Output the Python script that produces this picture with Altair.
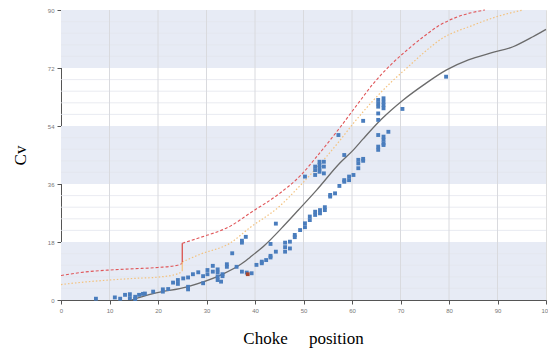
import altair as alt
import pandas as pd

# ---- data ----
pts_x = [7.2, 11.1, 12.2, 13.2, 14.2, 14.2, 15.3, 15.3, 16.1, 16.9, 17.3, 19.0, 21.0, 21.0, 22.1,
         23.1, 24.1, 24.1, 25.2, 26.2, 26.2, 26.2, 27.2, 28.3, 29.3, 29.3, 30.2, 30.2, 31.3, 31.3,
         32.3, 32.3, 32.3, 32.3, 33.0, 33.3, 33.3, 34.2, 34.2, 35.3, 36.2, 37.3, 37.3, 38.1, 37.3,
         38.3, 39.3, 40.3, 41.4, 41.4, 42.3, 43.2, 43.2, 43.2, 44.3, 44.3, 46.2, 46.2, 46.2, 47.2,
         47.2, 48.2, 48.2, 49.3, 50.3, 50.3, 51.3, 51.3, 52.4, 52.4, 53.4, 53.4, 54.4, 54.4, 55.5,
         55.5, 56.5, 57.4, 58.4, 58.4, 59.4, 59.4, 60.3, 61.3, 61.3, 62.3, 50.3, 52.4, 52.4, 52.4,
         53.3, 53.3, 53.3, 53.3, 54.2, 54.2, 54.2, 58.4, 61.3, 62.3, 57.2, 62.3, 65.4, 65.4, 65.4,
         66.5, 66.5, 66.5, 66.5, 67.5, 65.4, 65.4, 65.4, 65.4, 65.4, 66.5, 66.5, 66.5, 66.5, 70.4,
         79.4]
pts_y = [0.4, 0.8, 0.4, 1.6, 1.8, 0.6, 1.0, 0.3, 1.6, 1.9, 2.0, 2.6, 3.3, 2.6, 3.4,
         5.4, 6.2, 5.0, 6.7, 7.0, 4.1, 3.3, 8.0, 8.6, 7.4, 5.2, 9.3, 8.0, 10.6, 8.8,
         9.5, 8.5, 7.2, 6.2, 5.7, 8.0, 7.4, 11.1, 10.3, 14.5, 10.3, 17.8, 18.4, 19.6, 8.8,
         8.5, 8.3, 10.9, 11.4, 11.9, 12.4, 13.2, 13.7, 17.4, 15.0, 23.7, 17.8, 16.4, 15.0, 18.1,
         16.0, 20.2, 19.5, 21.7, 22.6, 23.8, 25.9, 24.8, 27.4, 26.4, 27.9, 26.9, 28.8, 27.9, 32.1,
         32.6, 33.1, 35.4, 36.7, 37.2, 38.3, 37.2, 38.8, 40.9, 42.4, 43.2, 38.3, 41.4, 40.3, 38.8,
         42.9, 41.9, 40.9, 39.8, 41.4, 39.3, 42.9, 45.0, 43.5, 43.8, 51.2, 55.6, 51.2, 47.6, 46.6,
         50.7, 49.7, 48.6, 48.1, 52.2, 62.1, 61.0, 60.0, 57.9, 55.9, 62.6, 61.5, 60.5, 59.5, 59.3,
         69.3]

flag_x = [38.5]
flag_y = [8.0]

fit_x = [14.5, 19, 26, 33, 37, 39, 42, 45.8, 49, 52.7, 57.5, 60.3, 62.3, 66, 70.5, 75, 79.5, 84, 88.5, 93.2, 97.3, 100]
fit_y = [0.0, 2.0, 4.1, 7.8, 11.0, 13.3, 17.0, 22.8, 28.0, 34.1, 42.5, 46.6, 50.0, 56.0, 62.0, 67.0, 71.4, 74.5, 76.6, 78.6, 81.7, 84.0]

up_x = [0, 5, 10, 15, 20, 24, 25, 25, 28.7, 35, 39, 45, 49.3, 53, 57.5, 61.5, 64.3, 68, 71.3, 75, 78.1, 82, 87.4]
up_y = [7.6, 8.7, 9.3, 9.7, 10.1, 10.8, 11.3, 17.6, 19.4, 23.0, 27.0, 33.0, 38.5, 45.0, 53.5, 61.5, 67.0, 73.0, 77.5, 82.0, 85.3, 88.0, 90.0]

mid_x = [0, 5, 10, 15, 20, 24, 25, 25, 28.7, 34.8, 39, 45, 49.3, 53, 57.5, 60, 64.3, 68, 71.3, 75, 78.1, 85, 90, 95.3]
mid_y = [4.8, 5.6, 6.2, 6.7, 7.1, 8.1, 8.9, 11.8, 14.2, 17.6, 22.5, 29.0, 35.5, 41.5, 49.5, 54.3, 61.8, 67.5, 72.0, 77.0, 80.7, 85.3, 88.0, 90.0]

jump_x = [25]
up_jump = [(11.3, 17.6)]
mid_jump = [(8.9, 11.8)]

band_lo = [0, 36, 72]
band_hi = [18, 54, 90]
x_ticks = [0, 10, 20, 30, 40, 50, 60, 70, 80, 90, 100]
y_ticks = [0, 18, 36, 54, 72, 90]
y_minor = [3.6, 7.2, 10.8, 14.4, 21.6, 25.2, 28.8, 32.4, 39.6, 43.2, 46.8, 50.4,
           57.6, 61.2, 64.8, 68.4, 75.6, 79.2, 82.8, 86.4]
x_grid = [10, 20, 30, 40, 50, 60, 70, 80, 90]

# ---- tables ----
pts = pd.DataFrame({"x": pts_x, "y": pts_y})
flag = pd.DataFrame({"x": flag_x, "y": flag_y})
fit = pd.DataFrame({"x": fit_x, "y": fit_y})
# split the guide curves at the jump so the smooth interpolation keeps the step sharp
up_a = pd.DataFrame({"x": up_x[:7], "y": up_y[:7]})
up_b = pd.DataFrame({"x": up_x[7:], "y": up_y[7:]})
mid_a = pd.DataFrame({"x": mid_x[:7], "y": mid_y[:7]})
mid_b = pd.DataFrame({"x": mid_x[7:], "y": mid_y[7:]})
jumps = pd.DataFrame({"x": jump_x * 2,
                      "y": [up_jump[0][0], mid_jump[0][0]],
                      "y2": [up_jump[0][1], mid_jump[0][1]],
                      "s": ["up", "mid"]})
bands = pd.DataFrame({"lo": band_lo, "hi": band_hi, "x0": [0] * 3, "x1": [100] * 3})
ygrid = pd.DataFrame({"y": y_minor})
xgrid = pd.DataFrame({"x": x_grid})

xs = alt.Scale(domain=[0, 100], nice=False, zero=False)
ys = alt.Scale(domain=[0, 90], nice=False, zero=False)

axis_common = dict(labelFont="Liberation Sans", labelFontSize=6, labelColor="#777",
                   domainColor="#555", domainWidth=1, tickColor="#555", tickSize=4,
                   grid=False, labelFlush=False, titleFont="Liberation Serif", titleFontSize=17,
                   titleFontWeight="normal", titleColor="#000")

x_axis = alt.Axis(values=x_ticks, title="Choke\u00a0\u00a0\u00a0\u00a0\u00a0position",
                  labelPadding=3, titleX=242, titleY=43, titleBaseline="alphabetic",
                  **axis_common)
y_axis = alt.Axis(values=y_ticks, title="Cv", labelPadding=3,
                  titleX=-41, titleY=145, titleAngle=-90, titleAlign="center",
                  titleBaseline="middle", **axis_common)

band_layer = alt.Chart(bands).mark_rect(color="#e7ebf5").encode(
    x=alt.X("x0:Q", scale=xs, axis=x_axis),
    x2="x1:Q",
    y=alt.Y("lo:Q", scale=ys, axis=y_axis),
    y2="hi:Q",
)

ygrid_layer = alt.Chart(ygrid).mark_rule(color="#e3e6ee", strokeWidth=0.8).encode(
    y=alt.Y("y:Q", scale=ys),
    x=alt.datum(0), x2=alt.datum(100),
)

xgrid_layer = alt.Chart(xgrid).mark_rule(color="#d9dade", strokeWidth=1).encode(
    x=alt.X("x:Q", scale=xs),
    y=alt.datum(0), y2=alt.datum(90),
)


def curve(df, **kw):
    return alt.Chart(df).mark_line(interpolate="monotone", **kw).encode(
        x=alt.X("x:Q", scale=xs), y=alt.Y("y:Q", scale=ys))


mid_style = dict(color="#f3c27e", strokeWidth=1.2, strokeDash=[1.5, 2])
up_style = dict(color="#e0575a", strokeWidth=1.1, strokeDash=[3, 2])

jump_layer = alt.Chart(jumps).mark_rule(strokeWidth=1.2).encode(
    x=alt.X("x:Q", scale=xs), y=alt.Y("y:Q", scale=ys), y2="y2:Q",
    color=alt.Color("s:N", scale=alt.Scale(domain=["up", "mid"], range=["#d9453f", "#f3c27e"]),
                    legend=None),
)

fit_layer = curve(fit, color="#6b6b6b", strokeWidth=1.3)

pts_layer = alt.Chart(pts).mark_square(color="#4a7dbd", size=15, opacity=1).encode(
    x=alt.X("x:Q", scale=xs), y=alt.Y("y:Q", scale=ys))

flag_layer = alt.Chart(flag).mark_square(color="#a8452c", size=14, opacity=1).encode(
    x=alt.X("x:Q", scale=xs), y=alt.Y("y:Q", scale=ys))

chart = alt.layer(
    band_layer, ygrid_layer, xgrid_layer,
    curve(mid_a, **mid_style), curve(mid_b, **mid_style),
    curve(up_a, **up_style), curve(up_b, **up_style),
    jump_layer, fit_layer, pts_layer, flag_layer,
).properties(
    width=485, height=290,
    autosize=alt.AutoSizeParams(type="none"),
    padding={"left": 61, "top": 10, "right": 2, "bottom": 50},
).configure_view(stroke=None).configure(background="white")

chart.save("out.html", embed_options={"renderer": "svg", "actions": False})
